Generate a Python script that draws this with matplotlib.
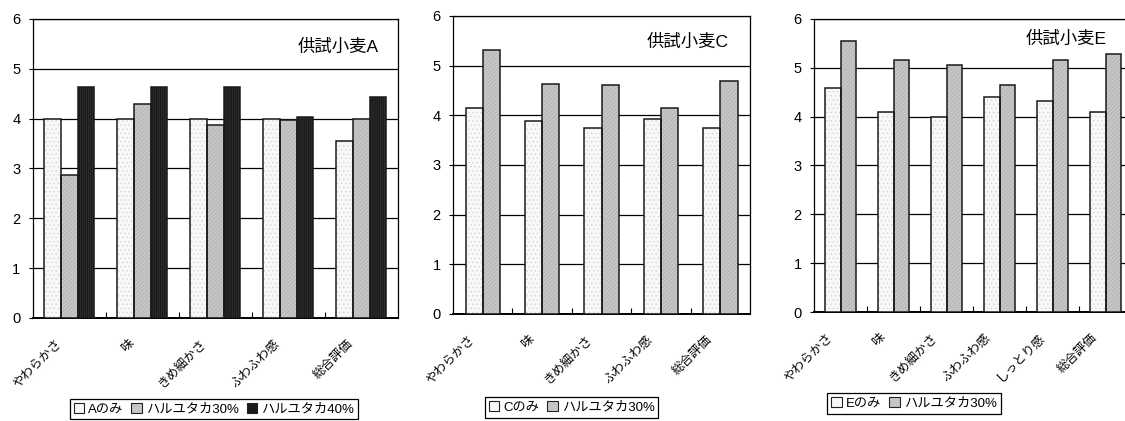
import numpy as np
import matplotlib
matplotlib.use("Agg")
import matplotlib.pyplot as plt
import matplotlib.transforms as mtrans
from matplotlib.patches import Patch

plt.rcParams['font.family'] = ['Liberation Sans', 'Noto Sans CJK JP']
plt.rcParams['hatch.linewidth'] = 0.4

# data
cats_a = ['やわらかさ', '味', 'きめ細かさ', 'ふわふわ感', '総合評価']
a_only = [4.0, 4.0, 4.0, 4.0, 3.55]
a_h30 = [2.87, 4.29, 3.87, 3.97, 4.0]
a_h40 = [4.63, 4.63, 4.63, 4.03, 4.43]

cats_c = ['やわらかさ', '味', 'きめ細かさ', 'ふわふわ感', '総合評価']
c_only = [4.15, 3.88, 3.74, 3.92, 3.74]
c_h30 = [5.32, 4.63, 4.61, 4.15, 4.70]

cats_e = ['やわらかさ', '味', 'きめ細かさ', 'ふわふわ感', 'しっとり感', '総合評価']
e_only = [4.58, 4.09, 3.99, 4.40, 4.33, 4.09]
e_h30 = [5.54, 5.17, 5.05, 4.65, 5.17, 5.29]

# bar styles: (face, hatch, hatch colour)
STY = {
    'only': ('#f8f8f8', '....', '#cfcfcf'),
    'h30': ('#c6c6c6', '////////', '#aaaaaa'),
    'h40': ('#1a1a1a', '||||||||', '#3c3c3c'),
}


def draw_bars(ax, x, vals, w, key):
    face, hatch, hc = STY[key]
    ax.bar(x, vals, w, color=face, hatch=hatch, edgecolor=hc, linewidth=0, zorder=3)
    ax.bar(x, vals, w, facecolor='none', edgecolor='#1a1a1a', linewidth=1.1, zorder=4)


def setup(ax, fig, cats, title, tx, ty):
    n = len(cats)
    ax.set_xlim(-0.5, n - 0.5)
    ax.set_ylim(0, 6)
    ax.set_yticks(range(7))
    ax.yaxis.grid(True, color='black', linewidth=0.9, zorder=1)
    ax.set_axisbelow(True)
    ax.set_xticks(range(n))
    ax.set_xticklabels(cats, rotation=45, ha='right', va='top', fontsize=9)
    ax.tick_params(axis='x', length=0, pad=14)
    shift = mtrans.ScaledTranslation(-6 / 100, 0, fig.dpi_scale_trans)
    for lab in ax.get_xticklabels():
        lab.set_transform(lab.get_transform() + shift)
    ax.set_xticks(np.arange(0.5, n - 0.5), minor=True)
    ax.tick_params(axis='x', which='minor', direction='in', length=4, width=0.8)
    ax.tick_params(axis='y', direction='out', length=3, width=0.8, pad=6, labelsize=10.5)
    for s in ax.spines.values():
        s.set_color('black')
        s.set_linewidth(0.9)
    ax.spines['bottom'].set_linewidth(1.4)
    ax.text(tx, ty, title, transform=ax.transAxes, fontsize=12.5, va='center', ha='left')


def legend(ax, fig, labels, keys, cx, cy):
    handles = []
    for k in keys:
        face, hatch, hc = STY[k]
        handles.append(Patch(facecolor=face, edgecolor='#222222', linewidth=0.8))
    leg = ax.legend(handles, labels, loc='center', bbox_to_anchor=(cx, cy),
                    bbox_transform=fig.transFigure, ncol=len(labels), fontsize=9.5,
                    frameon=True, fancybox=False, framealpha=1, edgecolor='black',
                    handlelength=0.8, handleheight=0.8, handletextpad=0.3,
                    columnspacing=0.6, borderpad=0.3, borderaxespad=0)
    leg.get_frame().set_linewidth(0.9)


fig = plt.figure(figsize=(11.25, 4.21), dpi=100)

# panel A
ax1 = fig.add_axes([0.0293, 0.2447, 0.3244, 0.7102])
x = np.arange(len(cats_a))
w = 0.228
draw_bars(ax1, x - w, a_only, w, 'only')
draw_bars(ax1, x, a_h30, w, 'h30')
draw_bars(ax1, x + w, a_h40, w, 'h40')
setup(ax1, fig, cats_a, '供試小麦A', 0.726, 0.906)
legend(ax1, fig, ['Aのみ', 'ハルユタカ30%', 'ハルユタカ40%'], ['only', 'h30', 'h40'], 0.190, 0.0285)

# panel C
ax2 = fig.add_axes([0.4027, 0.2542, 0.264, 0.7078])
x = np.arange(len(cats_c))
w = 0.29
draw_bars(ax2, x - w / 2, c_only, w, 'only')
draw_bars(ax2, x + w / 2, c_h30, w, 'h30')
setup(ax2, fig, cats_c, '供試小麦C', 0.653, 0.913)
legend(ax2, fig, ['Cのみ', 'ハルユタカ30%'], ['only', 'h30'], 0.508, 0.032)

# panel E
ax3 = fig.add_axes([0.7236, 0.2589, 0.2827, 0.696])
x = np.arange(len(cats_e))
draw_bars(ax3, x - w / 2, e_only, w, 'only')
draw_bars(ax3, x + w / 2, e_h30, w, 'h30')
setup(ax3, fig, cats_e, '供試小麦E', 0.664, 0.932)
legend(ax3, fig, ['Eのみ', 'ハルユタカ30%'], ['only', 'h30'], 0.8124, 0.0416)

fig.savefig('out.png', dpi=100)
